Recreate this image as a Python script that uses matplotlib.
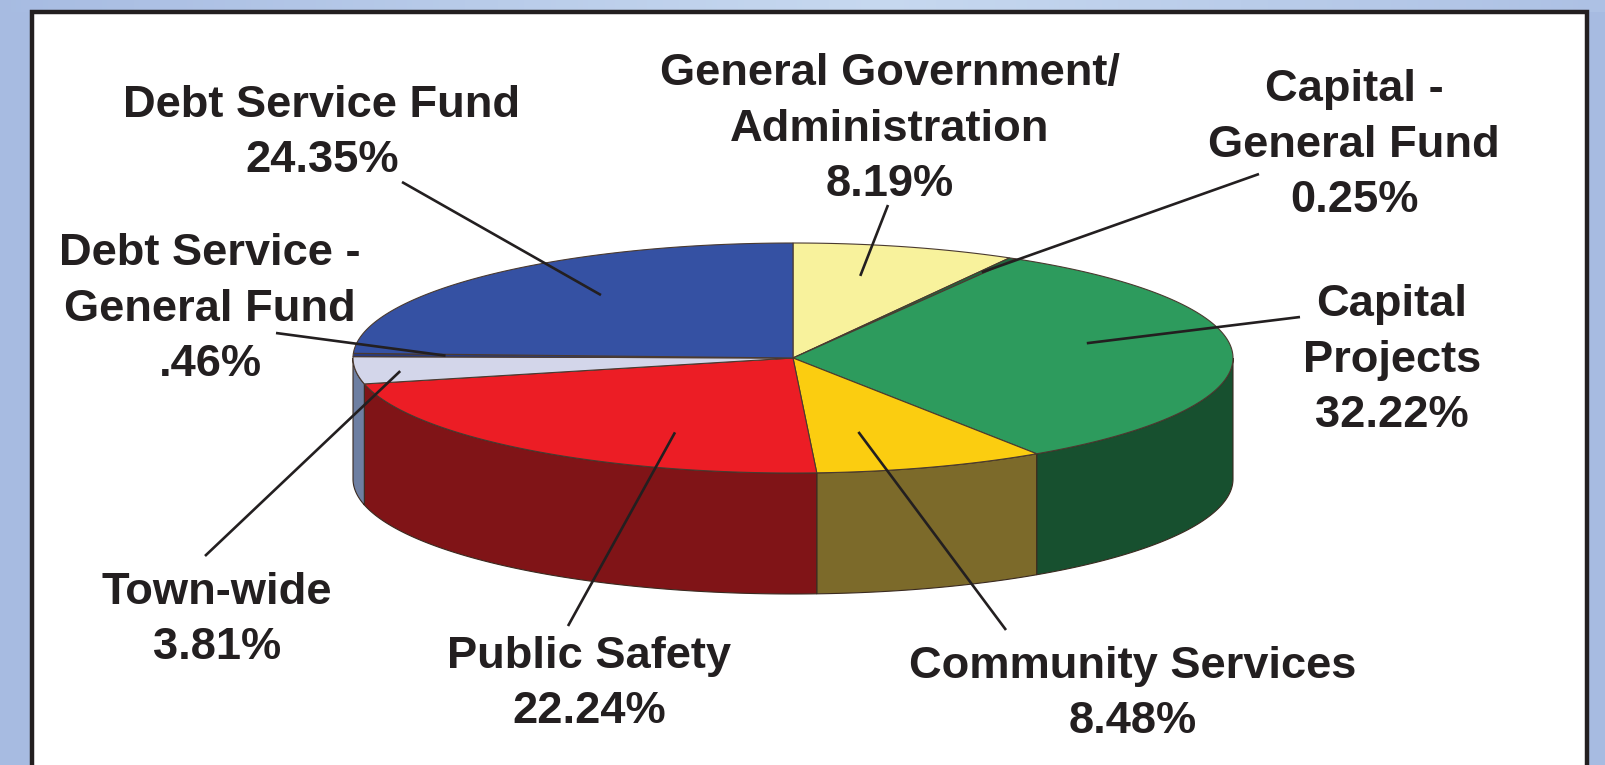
import numpy as np
import matplotlib.pyplot as plt
from matplotlib.patches import Polygon, Rectangle

# budget shares, clockwise from 12 o'clock
names = ["General Government/\nAdministration", "Capital -\nGeneral Fund", "Capital\nProjects",
         "Community Services", "Public Safety", "Town-wide", "Debt Service -\nGeneral Fund",
         "Debt Service Fund"]
shares = [8.19, 0.25, 32.22, 8.48, 22.24, 3.81, 0.46, 24.35]
pct_labels = ["8.19%", "0.25%", "32.22%", "8.48%", "22.24%", "3.81%", ".46%", "24.35%"]

top_colors = ["#f8f29c", "#1f6a40", "#2d9b5d", "#fbcd10", "#ec1d25", "#d3d6ea", "#2a3a7a", "#3551a3"]
side_colors = ["#8a8650", "#133f26", "#17502f", "#7c6a2a", "#801417", "#6e7fa2", "#1c2656", "#1f2f66"]

# pie geometry (pixels)
cx, cy = 793, 358
rx, ry = 440, 115
depth = 121

# label block centres and leader lines
label_xy = [(890, 129), (1354, 145), (1392, 360), (1133, 694), (589, 684), (217, 620), (210, 309), (322, 133)]
anchor = [(0.41, 0.73), (0.5, 0.86), (0.42, 0.68), (0.675, 0.66), (0.32, 0.70), (0.42, 0.90), (0.5, 0.79), (0.56, 0.70)]
leader_end = [(888, 205), (1259, 174), (1300, 317), (1006, 630), (568, 626), (205, 556), (276, 333), (402, 182)]

fig = plt.figure(figsize=(16.05, 7.65), dpi=100)
ax = fig.add_axes([0, 0, 1, 1])
ax.set_xlim(0, 1605)
ax.set_ylim(765, 0)
ax.axis("off")

# light blue backdrop with a soft horizontal gradient
grad = np.linspace(0, 1, 300)
grad = 1 - np.abs(grad - 0.55) * 1.8
bg = np.zeros((2, 300, 3))
c0 = np.array([0.655, 0.735, 0.885])
c1 = np.array([0.78, 0.85, 0.94])
for i in range(300):
    bg[:, i, :] = c0 + (c1 - c0) * max(grad[i], 0)
ax.imshow(bg, extent=(0, 1605, 765, 0), aspect="auto", zorder=0)
bg2 = np.tile(c0, (2, 2, 1))
ax.imshow(bg2, extent=(0, 1605, 765, 12), aspect="auto", zorder=0.5)

ax.add_patch(Rectangle((32, 12), 1555, 800, facecolor="white", edgecolor="#231f20", lw=3.2, zorder=1))


def ell(t, dy=0.0, r=1.0):
    t = np.radians(t)
    return cx + r * rx * np.cos(t), cy - r * ry * np.sin(t) + dy


# slice angle ranges, going clockwise from 90 degrees
bounds = 90 - np.concatenate([[0], np.cumsum(shares)]) * 3.6

# side walls on the front half
for i in range(len(shares)):
    hi, lo = bounds[i], bounds[i + 1]
    lo_v, hi_v = max(lo, -180), min(hi, 0)
    if lo_v >= hi_v:
        continue
    t = np.linspace(hi_v, lo_v, 120)
    xt, yt = ell(t)
    xb, yb = ell(t[::-1], depth)
    pts = np.column_stack([np.r_[xt, xb], np.r_[yt, yb]])
    ax.add_patch(Polygon(pts, closed=True, facecolor=side_colors[i], edgecolor="#3a2a20",
                         lw=0.8, zorder=2))

# top faces
for i in range(len(shares)):
    hi, lo = bounds[i], bounds[i + 1]
    t = np.linspace(hi, lo, max(int(abs(hi - lo)), 2) + 2)
    xt, yt = ell(t)
    pts = np.column_stack([np.r_[cx, xt], np.r_[cy, yt]])
    ax.add_patch(Polygon(pts, closed=True, facecolor=top_colors[i], edgecolor="#4a3a30",
                         lw=0.8, zorder=3))

# labels and leader lines
for i in range(len(shares)):
    hi, lo = bounds[i], bounds[i + 1]
    f, r = anchor[i]
    x0, y0 = ell(hi + (lo - hi) * f, r=r)
    x1, y1 = leader_end[i]
    ax.plot([x0, x1], [y0, y1], color="#231f20", lw=1.9, zorder=4, solid_capstyle="butt")
    ax.text(label_xy[i][0], label_xy[i][1], names[i] + "\n" + pct_labels[i],
            ha="center", va="center", multialignment="center", linespacing=1.44,
            fontsize=32.6, fontweight="bold", family="Liberation Sans", color="#231f20", zorder=5)

fig.savefig("out.png", dpi=100)
